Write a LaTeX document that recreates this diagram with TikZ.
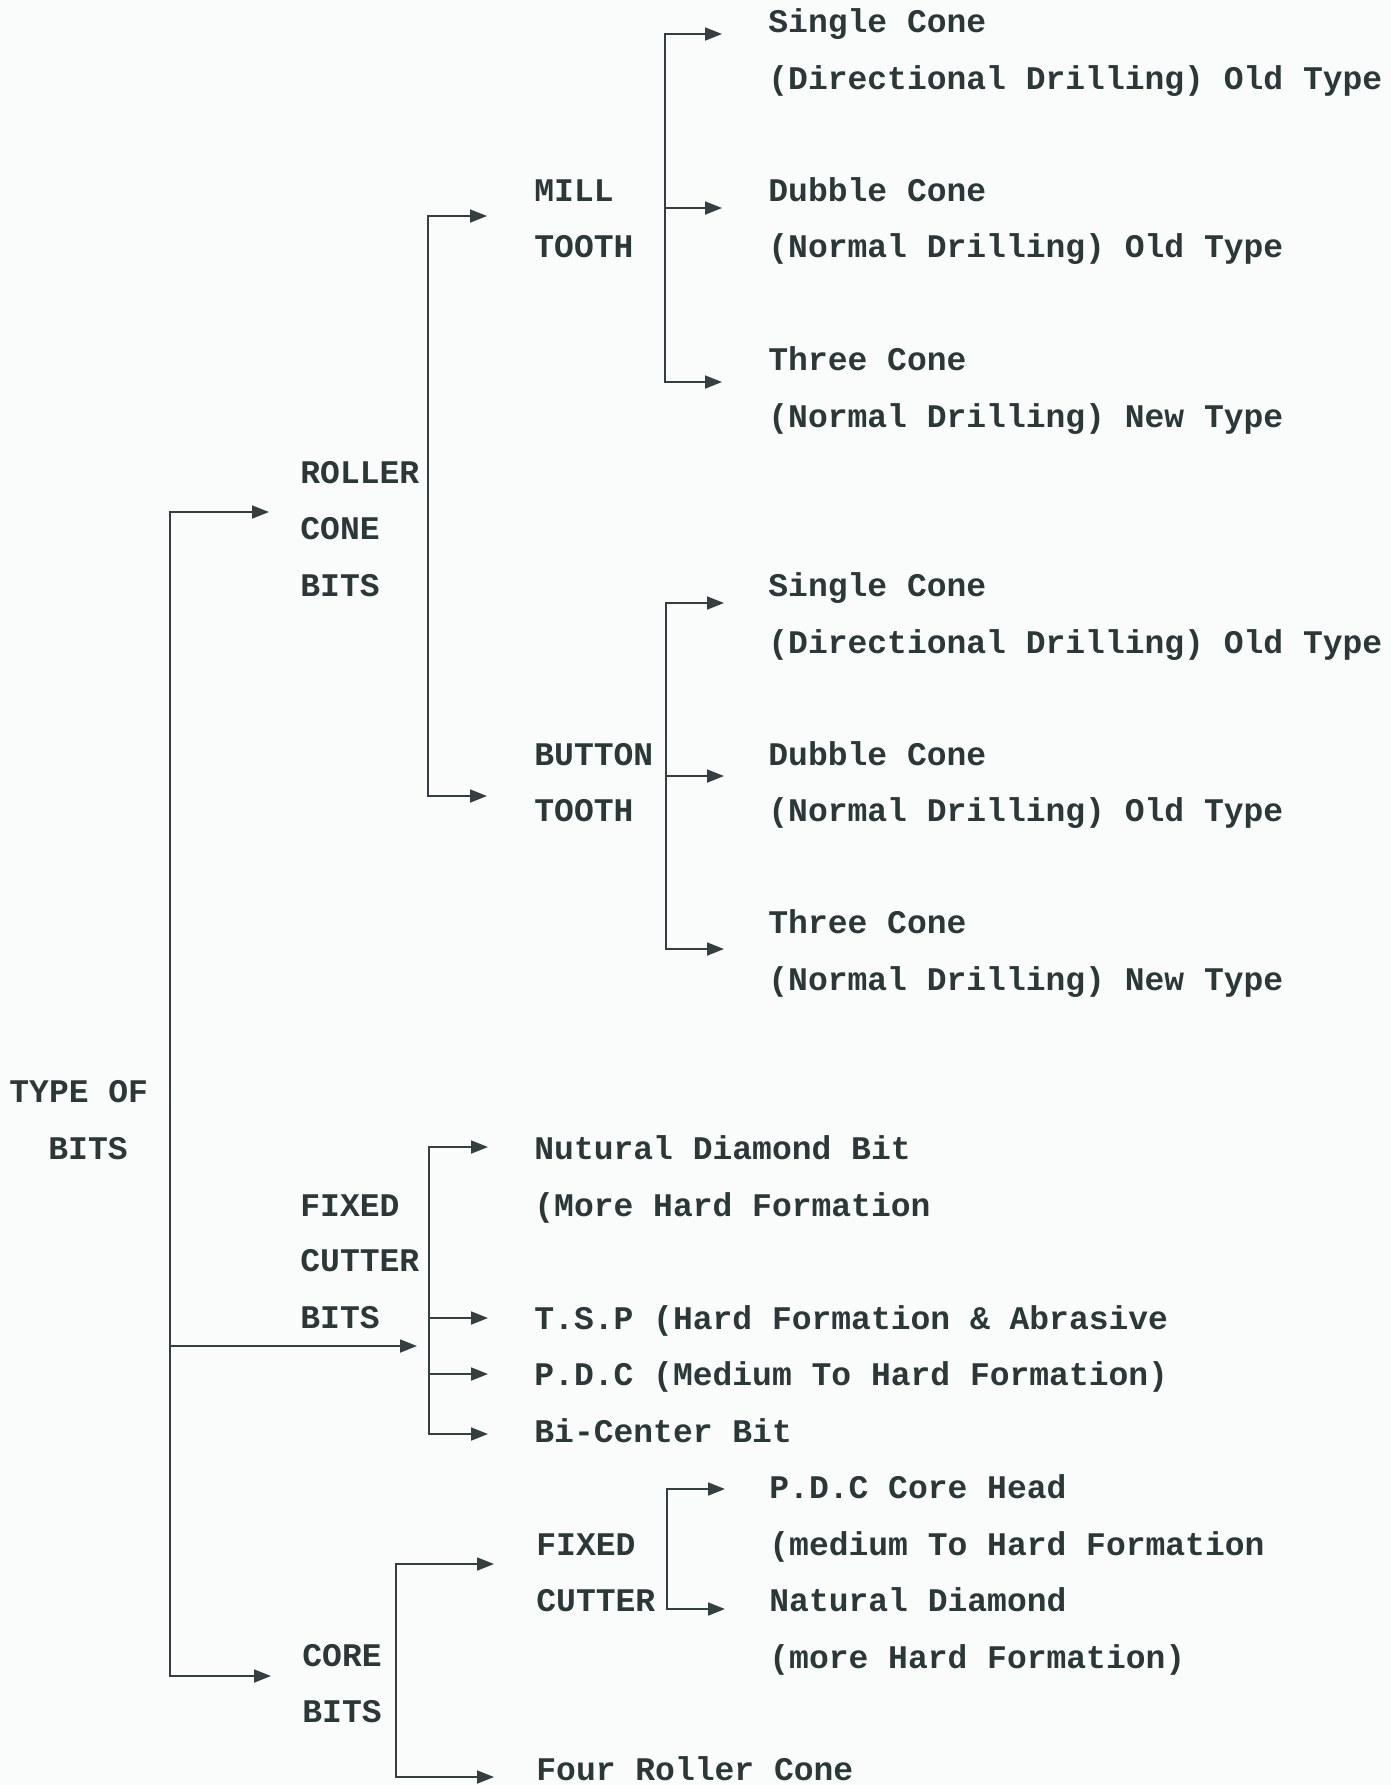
\documentclass[tikz,border=0pt]{standalone}
\usepackage{fontspec}
\newfontfamily\bitfont{Liberation Mono}
\usetikzlibrary{arrows.meta, calc}
\definecolor{bInk}{HTML}{2C3838}
\definecolor{bLine}{HTML}{353F3F}
\definecolor{bPaper}{HTML}{FAFCFC}

\begin{document}
\begin{tikzpicture}[x=0.5pt, y=-0.5pt, >={Triangle[length=8.5pt, width=6.5pt]},
  lbl/.style={anchor=base west, inner sep=0pt, text=bInk,
              font=\bitfont\bfseries\fontsize{16.5}{20}\selectfont},
  wire/.style={draw=bLine, line width=0.9pt}]
  \fill[bPaper] (0,0) rectangle (1391,1785);
  \useasboundingbox (0,0) rectangle (1391,1785);
  % root
  \node[lbl] (typeA) at (9,1102) {TYPE OF};
  \node[lbl] (typeB) at (48,1159) {BITS};
  % roller cone bits
  \node[lbl] (rcA) at (300,483) {ROLLER};
  \node[lbl] (rcB) at (300,539) {CONE};
  \node[lbl] (rcC) at (300,596) {BITS};
  \node[lbl] (millA) at (534,201) {MILL};
  \node[lbl] (millB) at (534,257) {TOOTH};
  \node[lbl] (sc1) at (768,32) {Single Cone};
  \node[lbl] (sc1d) at (768,89) {(Directional Drilling) Old Type};
  \node[lbl] (dc1) at (768,201) {Dubble Cone};
  \node[lbl] (dc1d) at (768,257) {(Normal Drilling) Old Type};
  \node[lbl] (tc1) at (768,370) {Three Cone};
  \node[lbl] (tc1d) at (768,427) {(Normal Drilling) New Type};
  \node[lbl] (btnA) at (534,765) {BUTTON};
  \node[lbl] (btnB) at (534,821) {TOOTH};
  \node[lbl] (sc2) at (768,596) {Single Cone};
  \node[lbl] (sc2d) at (768,653) {(Directional Drilling) Old Type};
  \node[lbl] (dc2) at (768,765) {Dubble Cone};
  \node[lbl] (dc2d) at (768,821) {(Normal Drilling) Old Type};
  \node[lbl] (tc2) at (768,933) {Three Cone};
  \node[lbl] (tc2d) at (768,990) {(Normal Drilling) New Type};
  % fixed cutter bits
  \node[lbl] (fcA) at (300,1216) {FIXED};
  \node[lbl] (fcB) at (300,1271) {CUTTER};
  \node[lbl] (fcC) at (300,1328) {BITS};
  \node[lbl] (ndb) at (534,1159) {Nutural Diamond Bit};
  \node[lbl] (ndbd) at (534,1216) {(More Hard Formation};
  \node[lbl] (tsp) at (534,1329) {T.S.P (Hard Formation \& Abrasive};
  \node[lbl] (pdc) at (534,1385) {P.D.C (Medium To Hard Formation)};
  \node[lbl] (bic) at (534,1442) {Bi-Center Bit};
  % core bits
  \node[lbl] (coreA) at (302,1666) {CORE};
  \node[lbl] (coreB) at (302,1722) {BITS};
  \node[lbl] (cfA) at (536,1555) {FIXED};
  \node[lbl] (cfB) at (536,1611) {CUTTER};
  \node[lbl] (pch) at (769,1498) {P.D.C Core Head};
  \node[lbl] (pchd) at (769,1555) {(medium To Hard Formation};
  \node[lbl] (nd) at (769,1611) {Natural Diamond};
  \node[lbl] (ndd) at (769,1668) {(more Hard Formation)};
  \node[lbl] (frc) at (536,1780) {Four Roller Cone};

  % arrow ends and spines
  \coordinate (rootSp) at (170,512);
  \coordinate (rollerIn) at (269,512);
  \coordinate (fixedIn) at (417,1346);
  \coordinate (coreIn) at (271,1676);
  \coordinate (rollerSp) at (428,216);
  \coordinate (millIn) at (487,216);
  \coordinate (btnIn) at (487,796);
  \coordinate (millSp) at (665,34);
  \coordinate (sc1In) at (722,34);
  \coordinate (dc1In) at (722,208);
  \coordinate (tc1In) at (722,382);
  \coordinate (btnSp) at (666,603);
  \coordinate (sc2In) at (724,603);
  \coordinate (dc2In) at (724,776);
  \coordinate (tc2In) at (724,949);
  \coordinate (fixSp) at (429,1147);
  \coordinate (ndbIn) at (488,1147);
  \coordinate (tspIn) at (488,1318);
  \coordinate (pdcIn) at (488,1374);
  \coordinate (bicIn) at (488,1434);
  \coordinate (coreSp) at (396,1564);
  \coordinate (cfIn) at (494,1564);
  \coordinate (frcIn) at (494,1777);
  \coordinate (cfSp) at (667,1489);
  \coordinate (pchIn) at (725,1489);
  \coordinate (ndIn) at (725,1609);

  % root branches
  \draw[wire, <->] (rollerIn) -- (rootSp) -- (rootSp |- coreIn) -- (coreIn);
  \draw[wire, ->] (fixedIn -| rootSp) -- (fixedIn);
  % roller cone
  \draw[wire, <->] (millIn) -- (rollerSp) -- (rollerSp |- btnIn) -- (btnIn);
  \draw[wire, <->] (sc1In) -- (millSp) -- (millSp |- tc1In) -- (tc1In);
  \draw[wire, ->] (dc1In -| millSp) -- (dc1In);
  \draw[wire, <->] (sc2In) -- (btnSp) -- (btnSp |- tc2In) -- (tc2In);
  \draw[wire, ->] (dc2In -| btnSp) -- (dc2In);
  % fixed cutter
  \draw[wire, <->] (ndbIn) -- (fixSp) -- (fixSp |- bicIn) -- (bicIn);
  \foreach \t in {tspIn, pdcIn}
    \draw[wire, ->] (\t -| fixSp) -- (\t);
  % core
  \draw[wire, <->] (cfIn) -- (coreSp) -- (coreSp |- frcIn) -- (frcIn);
  \draw[wire, <->] (pchIn) -- (cfSp) -- (cfSp |- ndIn) -- (ndIn);
\end{tikzpicture}
\end{document}
